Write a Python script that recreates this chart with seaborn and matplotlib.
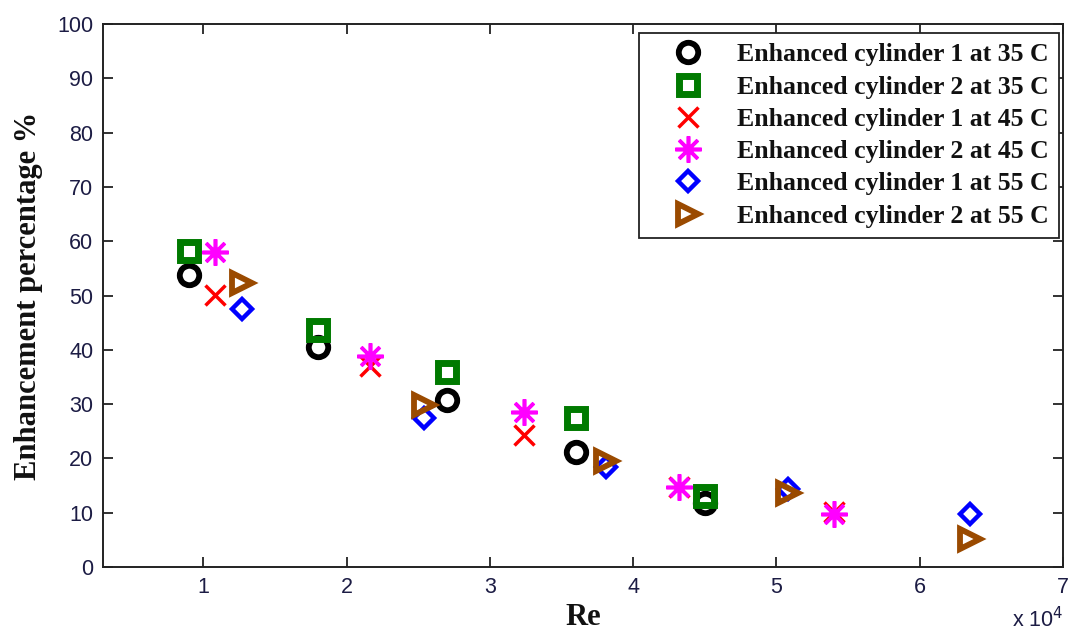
import numpy as np
import pandas as pd
import matplotlib
matplotlib.use("Agg")
import matplotlib.pyplot as plt
from matplotlib.ticker import FuncFormatter, FixedLocator
import seaborn as sns

# ---- data ----
re_35 = [9000, 18000, 27000, 36000, 45000]
cyl1_35 = [53.8, 40.5, 30.8, 21.2, 11.7]
cyl2_35 = [58.2, 43.6, 35.9, 27.4, 13.0]

re_45 = [10800, 21600, 32400, 43200, 54000]
cyl1_45 = [50.1, 37.0, 24.4, 14.7, 10.1]
cyl2_45 = [58.0, 38.9, 28.5, 14.7, 9.7]

re_55 = [12700, 25400, 38100, 50800, 63500]
cyl1_55 = [47.5, 27.4, 18.4, 14.4, 9.8]
cyl2_55 = [52.3, 29.8, 19.5, 13.6, 5.1]

labels = ["Enhanced cylinder 1 at 35 C", "Enhanced cylinder 2 at 35 C",
          "Enhanced cylinder 1 at 45 C", "Enhanced cylinder 2 at 45 C",
          "Enhanced cylinder 1 at 55 C", "Enhanced cylinder 2 at 55 C"]
x_ticks = [10000, 20000, 30000, 40000, 50000, 60000, 70000]
y_ticks = [0, 10, 20, 30, 40, 50, 60, 70, 80, 90, 100]

sns.set_theme(style="ticks")
plt.rcParams["font.family"] = ["Liberation Sans", "DejaVu Sans"]

fig = plt.figure(figsize=(10.70, 6.32), dpi=100)
ax = fig.add_axes([103 / 1070, 1 - 567 / 632, (1063 - 103) / 1070, (567 - 24) / 632])

series = [
    (re_35, cyl1_35, dict(marker="o", ms=14, mew=4.2, mfc="none", mec="black", color="black")),
    (re_35, cyl2_35, dict(marker="s", ms=12.5, mew=5.0, mfc="none", mec="#007a00", color="#007a00")),
    (re_45, cyl1_45, dict(marker="x", ms=14, mew=2.5, color="#ff0000", mec="#ff0000")),
    (re_45, cyl2_45, dict(marker=(8, 2, 0), ms=19, mew=2.6, color="#ff00ff", mec="#ff00ff")),
    (re_55, cyl1_55, dict(marker="D", ms=10.5, mew=3.2, mfc="none", mec="#0000ff", color="#0000ff")),
    (re_55, cyl2_55, dict(marker=">", ms=15, mew=4.2, mfc="none", mec="#9a4a00", color="#9a4a00")),
]

for (xs, ys, st), lab in zip(series, labels):
    df = pd.DataFrame({"Re": xs, "E": ys})
    sns.lineplot(data=df, x="Re", y="E", ax=ax, estimator=None, sort=False,
                 linestyle="none", label=lab, **st)

ax.set_xlim(3000, 70000)
ax.set_ylim(0, 100)
ax.xaxis.set_major_locator(FixedLocator(x_ticks))
ax.yaxis.set_major_locator(FixedLocator(y_ticks))
ax.xaxis.set_major_formatter(FuncFormatter(lambda v, p: f"{v / 1e4:g}"))

tick_color = "#1c1c44"
ax.tick_params(direction="in", length=7, width=1.3, color="#222222",
               top=True, right=True, labelsize=15.5, labelcolor=tick_color, pad=7)
for sp in ax.spines.values():
    sp.set_visible(True)
    sp.set_linewidth(1.4)
    sp.set_color("#222222")

ax.set_xlabel("Re", family="Liberation Serif", fontweight="bold", fontsize=22,
              color="#111111", labelpad=4)
ax.set_ylabel("Enhancement percentage %", family="Liberation Serif", fontweight="bold",
              fontsize=22, color="#111111", labelpad=10)

fig.text(1012 / 1070, 1 - 627 / 632, r"x 10$^4$", fontsize=15.5, color=tick_color,
         ha="left", va="baseline")

leg = ax.legend(loc="upper right", bbox_to_anchor=(1059 / 1070, 1 - 33 / 632),
                bbox_transform=fig.transFigure, borderaxespad=0,
                prop={"family": "Liberation Serif", "weight": "bold", "size": 18.5},
                frameon=True, fancybox=False, framealpha=1, edgecolor="#222222",
                borderpad=0.4, handlelength=2.95, handletextpad=0.45,
                labelspacing=0.36)
leg.get_frame().set_linewidth(1.3)
for t in leg.get_texts():
    t.set_color("#111111")

fig.savefig("out.png", dpi=100)
